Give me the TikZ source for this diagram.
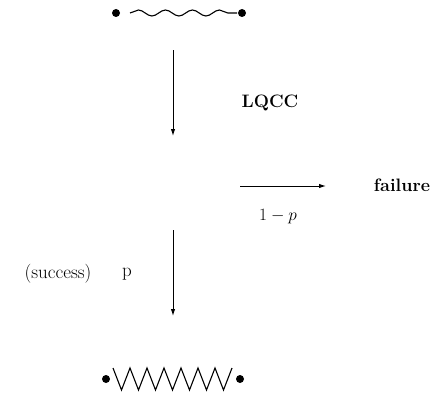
\documentclass[tikz,border=0pt]{standalone}
\usetikzlibrary{decorations.pathmorphing,arrows.meta}
\begin{document}
\begin{tikzpicture}[x=1pt,y=-1pt,
  dot/.style={circle,fill,inner sep=0pt,minimum size=8pt},
  arr/.style={-{Latex[length=7pt,width=4.5pt]}, line width=1pt},
  lbl/.style={font=\fontsize{19}{22}\selectfont, inner sep=0pt},
  blbl/.style={font=\fontsize{18}{22}\selectfont\bfseries, inner sep=0pt},
  wave/.style={decorate,decoration={snake,segment length=27pt,amplitude=3pt},line width=1.1pt},
  zig/.style={line width=1.1pt,line join=miter}]
\useasboundingbox (0,0) rectangle (438,396);
% top
\node[dot] (tl) at (116,13) {};
\node[dot] (tr) at (242,13) {};
\coordinate (ws) at (130,13);
\coordinate (we) at (237,13);
\draw[wave] (ws) -- (we);
% first arrow
\coordinate (a1s) at (173,50);
\coordinate (a1e) at (173,136);
\draw[arr] (a1s) -- (a1e);
\node[blbl] (lqcc) at (270,103) {LQCC};
% failure branch
\coordinate (hs) at (240,186);
\coordinate (he) at (326,186);
\draw[arr] (hs) -- (he);
\node[blbl] (fail) at (402,185) {failure};
\node[lbl] (onep) at (278,217) {$1-p$};
% second arrow
\coordinate (a2s) at (173,230);
\coordinate (a2e) at (173,316);
\draw[arr] (a2s) -- (a2e);
\node[lbl] (succ) at (58,274) {(success)};
\node[lbl] (p) at (127,274) {p};
% bottom
\node[dot] (bl) at (106,379) {};
\node[dot] (br) at (240,379) {};
\draw[zig] (113,368) -- (121.5,390) -- (130,368) -- (138.5,390) -- (147,368) -- (155.5,390) -- (164,368) -- (172.5,390) -- (181,368) -- (189.5,390) -- (198,368) -- (206.5,390) -- (215,368) -- (223.5,390) -- (232,368);
\end{tikzpicture}
\end{document}
